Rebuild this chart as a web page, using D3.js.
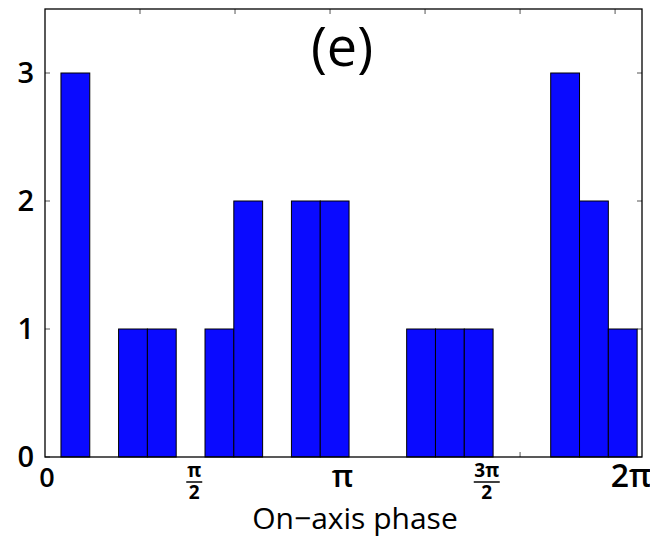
<!DOCTYPE html>
<html><head><meta charset="utf-8">
<script src="https://cdn.jsdelivr.net/npm/d3@7"></script>
<style>body{margin:0;background:#fff}svg{display:block}text{font-family:"Open Sans",sans-serif;fill:#000}</style>
</head><body>
<script>
// ---- data ----
const counts = [3,0,1,1,0,1,2,0,2,2,0,0,1,1,1,0,0,3,2,1];
const binRange = [0.168, 6.232];
const yTicks = [0,1,2,3];
const xMinorTicks = [1,2,3,4,5,6];
const xTickValues = [0, Math.PI/2, Math.PI, 3*Math.PI/2, 2*Math.PI];
const xTickLabels = [{t:"0"},{num:"π",den:"2"},{t:"π"},{num:"3π",den:"2"},{t:"2π"}];
const title = "(e)";
const xLabel = "On−axis phase";

// ---- chart ----
const W=650,H=537, L=45,R=642,T=9,B=457;
const svg=d3.select("body").append("svg").attr("width",W).attr("height",H);
const x=d3.scaleLinear().domain([0,2*Math.PI]).range([L,R]);
const y=d3.scaleLinear().domain([0,3.5]).range([B,T]);
const bw=(binRange[1]-binRange[0])/counts.length;
const bins=counts.map((c,i)=>({x0:binRange[0]+i*bw,x1:binRange[0]+(i+1)*bw,c}));

// ticks (inside)
const tk=svg.append("g").attr("stroke","#555").attr("stroke-width",1);
xMinorTicks.forEach(v=>{
  tk.append("line").attr("x1",x(v)).attr("x2",x(v)).attr("y1",T).attr("y2",T+5);
  tk.append("line").attr("x1",x(v)).attr("x2",x(v)).attr("y1",B).attr("y2",B-5);
});
yTicks.forEach(v=>{
  tk.append("line").attr("x1",L).attr("x2",L+5).attr("y1",y(v)).attr("y2",y(v));
  tk.append("line").attr("x1",R).attr("x2",R-5).attr("y1",y(v)).attr("y2",y(v));
});

// bars
svg.append("g").selectAll("rect").data(bins.filter(d=>d.c>0)).join("rect")
  .attr("x",d=>x(d.x0)).attr("width",d=>x(d.x1)-x(d.x0))
  .attr("y",d=>y(d.c)).attr("height",d=>y(0)-y(d.c))
  .attr("fill","#0a0aff").attr("stroke","#000").attr("stroke-width",1);

// frame
svg.append("rect").attr("x",L).attr("y",T).attr("width",R-L).attr("height",B-T)
  .attr("fill","none").attr("stroke","#000").attr("stroke-width",1.3);

// y labels
svg.append("g").selectAll("text").data(yTicks).join("text")
  .attr("x",L-11).attr("y",d=>y(d)+10).attr("text-anchor","end")
  .attr("font-size",29).attr("font-weight",600).text(d=>d);

// x labels
const adj=[2,0,-1,-6,-11];
const sizes=[27,0,31,0,32];
xTickLabels.forEach((lb,i)=>{
  const cx=x(xTickValues[i])+adj[i];
  if(lb.t){
    svg.append("text").attr("x",cx).attr("y",487).attr("text-anchor","middle")
      .attr("font-size",sizes[i]).attr("font-weight",600).text(lb.t);
  } else {
    svg.append("text").attr("x",cx).attr("y",477).attr("text-anchor","middle")
      .attr("font-size",19).attr("font-weight",700).text(lb.num);
    svg.append("line").attr("x1",cx-(lb.num.length>1?13:8)).attr("x2",cx+(lb.num.length>1?13:8))
      .attr("y1",482).attr("y2",482).attr("stroke","#000").attr("stroke-width",1.5);
    svg.append("text").attr("x",cx).attr("y",499).attr("text-anchor","middle")
      .attr("font-size",19).attr("font-weight",700).text(lb.den);
  }
});

svg.append("text").attr("x",355).attr("y",529).attr("text-anchor","middle")
  .attr("font-size",30).text(xLabel);
svg.append("text").attr("x",342).attr("y",66).attr("text-anchor","middle")
  .attr("font-size",54).text(title);
</script>
</body></html>
